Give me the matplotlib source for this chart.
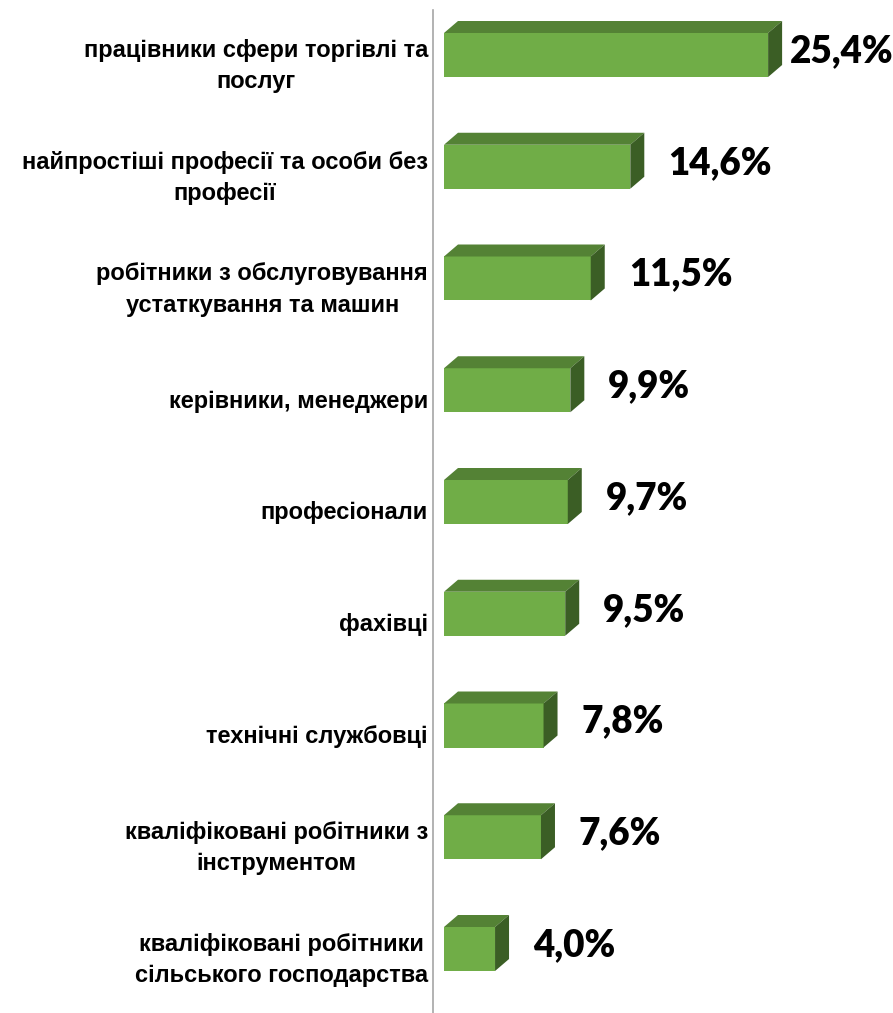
import matplotlib
matplotlib.use("Agg")
import matplotlib.pyplot as plt
from matplotlib.patches import Polygon

categories = [
    "працівники сфери торгівлі та\nпослуг",
    "найпростіші професії та особи без\nпрофесії",
    "робітники з обслуговування\nустаткування та машин",
    "керівники, менеджери",
    "професіонали",
    "фахівці",
    "технічні службовці",
    "кваліфіковані робітники з\nінструментом",
    "кваліфіковані робітники\nсільського господарства",
]
values = [25.4, 14.6, 11.5, 9.9, 9.7, 9.5, 7.8, 7.6, 4.0]
value_labels = ["25,4%", "14,6%", "11,5%", "9,9%", "9,7%", "9,5%", "7,8%", "7,6%", "4,0%"]

W, H = 893, 1013
fig = plt.figure(figsize=(W / 100, H / 100), dpi=100)
ax = fig.add_axes([0, 0, 1, 1])

px_per_unit = 12.76
x0_px = 444
row_px = 111.75
first_px = 55
ax.set_xlim(-x0_px / px_per_unit, (W - x0_px) / px_per_unit)
ax.set_ylim((H - first_px) / row_px, -first_px / row_px)
ax.axis("off")

front = "#70AD47"
top = "#548235"
side = "#3B5E25"
dx = 14 / px_per_unit
dy = 12 / row_px
hh = 22 / row_px

for i, (cat, v, lab) in enumerate(zip(categories, values, value_labels)):
    y = i
    ax.add_patch(Polygon([(0, y - hh), (v, y - hh), (v, y + hh), (0, y + hh)],
                         closed=True, facecolor=front, edgecolor="none"))
    ax.add_patch(Polygon([(0, y - hh), (dx, y - hh - dy), (v + dx, y - hh - dy), (v, y - hh)],
                         closed=True, facecolor=top, edgecolor="none"))
    ax.add_patch(Polygon([(v, y - hh), (v + dx, y - hh - dy), (v + dx, y + hh - dy), (v, y + hh)],
                         closed=True, facecolor=side, edgecolor="none"))
    ax.annotate(cat, xy=(0, y), xytext=(-16, -11), textcoords="offset pixels",
                ha="right", va="center", multialignment="center", linespacing=1.45,
                fontsize=17, fontweight="bold", family="Liberation Sans", color="#000000")
    off = 24 if v < 20 else 8
    ax.annotate(lab, xy=(v + dx, y), xytext=(off, 4), textcoords="offset pixels",
                ha="left", va="center", fontsize=26.5, fontweight="heavy",
                family="Lato", color="#000000")

ax.plot([-11 / px_per_unit, -11 / px_per_unit],
        [-(first_px - 10) / row_px, (H - first_px) / row_px],
        color="#A6A6A6", lw=1.2)

fig.savefig("out.png", dpi=100)
